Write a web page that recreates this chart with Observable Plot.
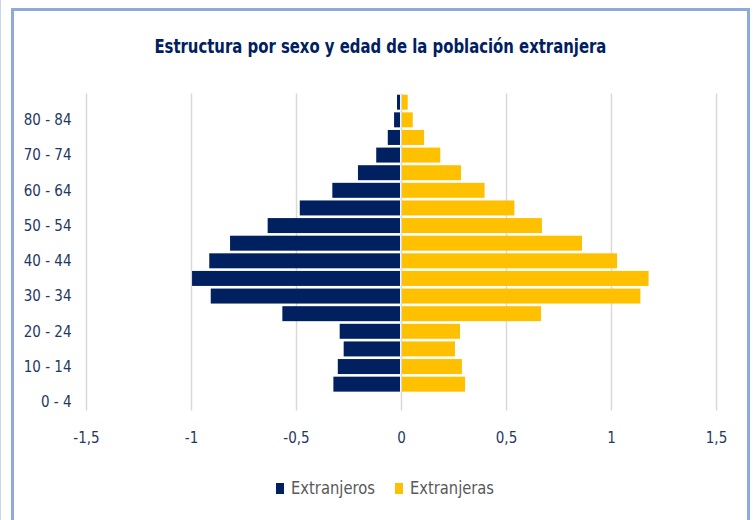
<!DOCTYPE html>
<html>
<head>
<meta charset="utf-8">
<script src="https://cdn.jsdelivr.net/npm/d3@7"></script>
<script src="https://cdn.jsdelivr.net/npm/@observablehq/plot@0.6"></script>
<style>
  body { margin: 0; background: #fff; width: 754px; height: 520px; overflow: hidden; position: relative;
         font-family: "Liberation Sans Narrow", "DejaVu Sans Condensed", "Liberation Sans", sans-serif; }
  #edge { position: absolute; left: 0; top: 0; width: 1px; height: 520px; background: #c9d6ef; }
  #frame { position: absolute; left: 11px; top: 8px; width: 733px; height: 540px; border: 3px solid #8eaadb; box-sizing: content-box; }
  #title { position: absolute; left: 0; top: 36px; width: 761px; text-align: center; font-size: 20px; line-height: 20px;
           font-weight: bold; color: #002060; white-space: nowrap; }
  #title span { display: inline-block; transform-origin: center; }
  #chart { position: absolute; left: 0; top: 0; }
  #legend { position: absolute; left: 0; top: 480px; width: 769px; display: flex; justify-content: center; gap: 20px;
            font-size: 17px; line-height: 17px; color: #595959; }
  .item { display: flex; align-items: center; gap: 7px; }
  .sw { width: 8px; height: 11px; }
  .lab { display: inline-block; white-space: nowrap; overflow: visible; }
  .lab span { display: inline-block; transform-origin: left; }
</style>
</head>
<body>
<div id="edge"></div>
<div id="frame"></div>
<div id="title"><span>Estructura por sexo y edad de la población extranjera</span></div>
<div id="chart"></div>
<div id="legend"></div>
<script>
// ---- data ----
const ages = ["0 - 4","5 - 9","10 - 14","15 - 19","20 - 24","25 - 29","30 - 34","35 - 39","40 - 44",
              "45 - 49","50 - 54","55 - 59","60 - 64","65 - 69","70 - 74","75 - 79","80 - 84","85 +"];
const extranjeros = [null, -0.322, -0.301, -0.273, -0.292, -0.565, -0.906, -0.995, -0.913,
                     -0.814, -0.635, -0.482, -0.327, -0.205, -0.118, -0.063, -0.033, -0.019];
const extranjeras = [null, 0.305, 0.290, 0.257, 0.281, 0.667, 1.140, 1.179, 1.029,
                     0.862, 0.671, 0.540, 0.398, 0.286, 0.187, 0.110, 0.056, 0.032];
const series = ["Extranjeros", "Extranjeras"];
const colors = ["#002060", "#FFC000"];
const xTicks = [-1.5, -1, -0.5, 0, 0.5, 1, 1.5];
const yTickLabels = ages.filter((d, i) => i % 2 === 0);

// ---- table ----
const rows = [];
ages.forEach((a, i) => {
  if (extranjeros[i] != null) rows.push({age: a, sexo: series[0], v: extranjeros[i]});
  if (extranjeras[i] != null) rows.push({age: a, sexo: series[1], v: extranjeras[i]});
});

const H = 460;
const plot = Plot.plot({
  width: 754,
  height: H,
  marginLeft: 86,
  marginRight: 38,
  marginTop: 93.4,
  marginBottom: H - 410.6,
  style: {background: "transparent", color: "#1f3864", fontFamily: "\"Liberation Sans Narrow\", \"DejaVu Sans Condensed\", sans-serif", overflow: "visible"},
  x: {domain: [-1.5, 1.5], label: null},
  y: {domain: ages.slice().reverse(), paddingInner: 0.15, paddingOuter: 0.075, round: false, label: null},
  color: {domain: series, range: colors},
  marks: [
    Plot.gridX({ticks: xTicks, stroke: "#d9d9d9", strokeOpacity: 1, strokeWidth: 1.5}),
    Plot.barX(rows.filter(d => d.sexo === series[0]), {x1: "v", x2: 0, y: "age", fill: "sexo", insetRight: 1}),
    Plot.barX(rows.filter(d => d.sexo === series[1]), {x1: 0, x2: "v", y: "age", fill: "sexo", insetLeft: 1}),
    Plot.axisY({ticks: yTickLabels, tickSize: 0, tickPadding: 15, fontSize: 15}),
    Plot.axisX({ticks: xTicks, tickSize: 0, tickPadding: 21, fontSize: 15,
                tickFormat: d => String(d).replace(".", ",")})
  ]
});
plot.style.maxWidth = "none";
document.getElementById("chart").appendChild(plot);

// legend
const legend = document.getElementById("legend");
series.forEach((s, i) => {
  const item = document.createElement("div");
  item.className = "item";
  item.innerHTML = `<div class="sw" style="background:${colors[i]}"></div><span class="lab"><span>${s}</span></span>`;
  legend.appendChild(item);
});

function fitWidth(inner, target, outer) {
  const w = inner.getBoundingClientRect().width;
  if (w > 0) {
    inner.style.transform = `scaleX(${target / w})`;
    if (outer) outer.style.width = target + "px";
  }
}
fitWidth(document.querySelector("#title span"), 452);
document.querySelectorAll(".lab").forEach(o => fitWidth(o.firstElementChild, 84, o));
</script>
</body>
</html>
